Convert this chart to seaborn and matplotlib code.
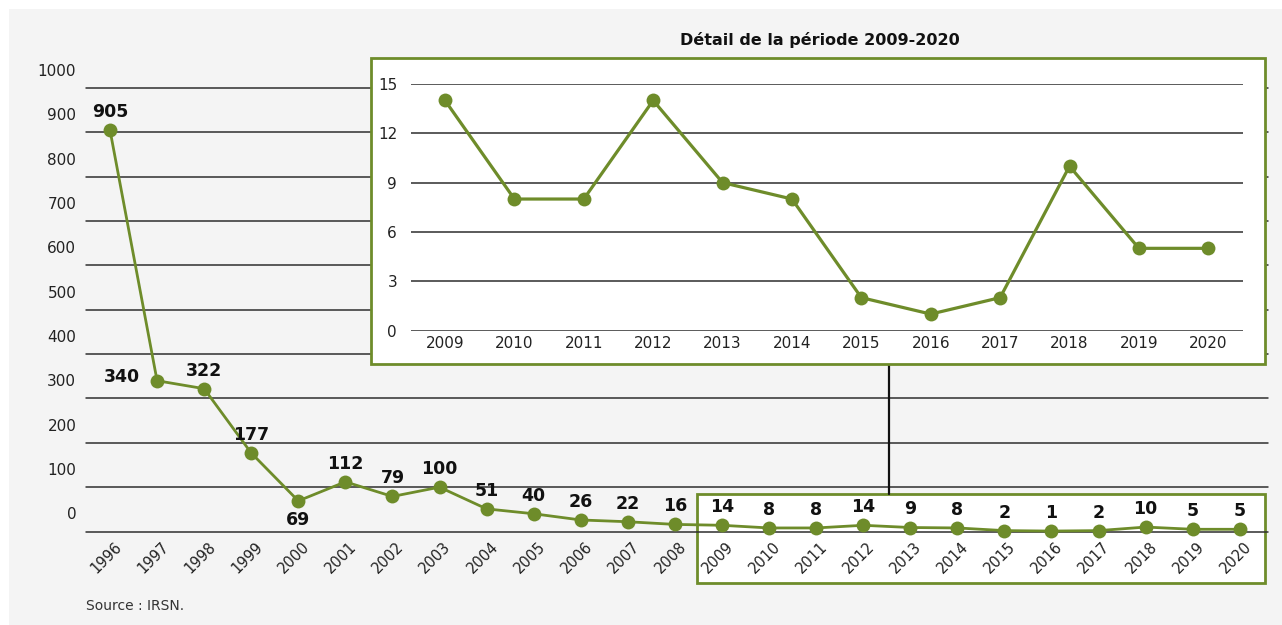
import matplotlib
matplotlib.use("Agg")
import matplotlib.pyplot as plt
import seaborn as sns
import pandas as pd
from matplotlib.patches import Rectangle
from matplotlib.lines import Line2D

# ---- data ----
years = [1996, 1997, 1998, 1999, 2000, 2001, 2002, 2003, 2004, 2005, 2006, 2007,
         2008, 2009, 2010, 2011, 2012, 2013, 2014, 2015, 2016, 2017, 2018, 2019, 2020]
values = [905, 340, 322, 177, 69, 112, 79, 100, 51, 40, 26, 22,
          16, 14, 8, 8, 14, 9, 8, 2, 1, 2, 10, 5, 5]
main_yticks = [0, 100, 200, 300, 400, 500, 600, 700, 800, 900, 1000]
detail_years = [2009, 2010, 2011, 2012, 2013, 2014, 2015, 2016, 2017, 2018, 2019, 2020]
detail_values = [14, 8, 8, 14, 9, 8, 2, 1, 2, 10, 5, 5]
detail_yticks = [0, 3, 6, 9, 12, 15]
title_detail = "Détail de la période 2009-2020"
source_text = "Source : IRSN."

GREEN = "#6e8c2a"
PANEL = "#f4f4f4"
GRID = "#2e2e2e"

sns.set_theme(style="white")
plt.rcParams['font.family'] = ['DejaVu Sans']

W, H = 1282, 625
fig = plt.figure(figsize=(W / 100, H / 100), dpi=100, facecolor="white")

def fx(px):
    return px / W

def fy(py):
    return 1 - py / H

# grey panel
fig.patches.append(Rectangle((fx(9), 0), 1 - fx(9), fy(9), transform=fig.transFigure,
                             facecolor=PANEL, edgecolor="none", zorder=-5))

# ---- main axes ----
x0, x1, ytop, ybot = 86, 1268, 88, 531.5
ax = fig.add_axes([fx(x0), fy(ybot), fx(x1) - fx(x0), fy(ytop) - fy(ybot)], zorder=1)
ax.set_facecolor("none")
df = pd.DataFrame({"idx": range(len(years)), "year": years, "value": values})
sns.lineplot(data=df, x="idx", y="value", ax=ax, color=GREEN, linewidth=2.0,
             marker="o", markersize=10, markeredgewidth=0, zorder=5, clip_on=False)
ax.set_xlim(-0.51, 24.6)
ax.set_ylim(0, 1000)
for s in ax.spines.values():
    s.set_visible(False)
ax.set_xticks([])
ax.set_yticks([])
ax.set_xlabel("")
ax.set_ylabel("")
for t in main_yticks:
    ax.axhline(t, color=GRID, linewidth=1.1, zorder=2, clip_on=False)
    ax.annotate(str(t), xy=(0, t), xycoords=("axes fraction", "data"),
                xytext=(-7, 12), textcoords="offset points",
                ha="right", va="center", fontsize=11, color="#222222")

# x labels rotated
for i, y in enumerate(years):
    ax.annotate(str(y), xy=(i, 0), xycoords="data", xytext=(-3, -19),
                textcoords="offset points", rotation=45, ha="center", va="center",
                fontsize=10.5, color="#222222", zorder=6, annotation_clip=False)

# value labels
for i, (y, v) in enumerate(zip(years, values)):
    if y == 1997:
        off, ha = (-12, 3), "right"
    elif y == 2000:
        off, ha = (0, -14), "center"
    else:
        off, ha = (0, 13), "center"
    ax.annotate(str(v), xy=(i, v), xytext=off, textcoords="offset points",
                ha=ha, va="center", fontsize=12.5, fontweight="bold",
                color="#111111", zorder=7, annotation_clip=False)

# highlight box around 2009-2020
i_start = years.index(detail_years[0])
i_end = years.index(detail_years[-1])
ax.add_patch(Rectangle((i_start - 0.53, -116), (i_end - i_start) + 1.06, 200.5,
                       facecolor="white", edgecolor=GREEN, linewidth=2.0,
                       zorder=1, clip_on=False))

# ---- inset ----
fig.patches.append(Rectangle((fx(371), fy(364)), fx(1265) - fx(371), fy(58) - fy(364),
                             transform=fig.transFigure, facecolor="white",
                             edgecolor=GREEN, linewidth=2.0, zorder=3))
fig.lines.append(Line2D([fx(889), fx(889)], [fy(364), fy(494)],
                        transform=fig.transFigure, color="#111111", linewidth=1.6, zorder=3))

ix0, ix1, iytop, iybot = 411, 1243, 84, 330.5
axi = fig.add_axes([fx(ix0), fy(iybot), fx(ix1) - fx(ix0), fy(iytop) - fy(iybot)], zorder=5)
axi.set_facecolor("none")
dfi = pd.DataFrame({"idx": range(len(detail_years)), "value": detail_values})
sns.lineplot(data=dfi, x="idx", y="value", ax=axi, color=GREEN, linewidth=2.3,
             marker="o", markersize=10, markeredgewidth=0, zorder=5, clip_on=False)
axi.set_xlim(-0.49, 11.5)
axi.set_ylim(0, 15)
for s in axi.spines.values():
    s.set_visible(False)
axi.set_yticks(detail_yticks)
axi.set_yticklabels([str(t) for t in detail_yticks], fontsize=11, color="#222222")
axi.set_xticks(range(len(detail_years)))
axi.set_xticklabels([str(y) for y in detail_years], fontsize=11, color="#222222")
axi.tick_params(axis="both", length=0, pad=4)
axi.tick_params(axis="y", pad=10)
axi.set_xlabel("")
axi.set_ylabel("")
axi.grid(False)
for t in detail_yticks:
    axi.axhline(t, color=GRID, linewidth=1.1, zorder=2)

fig.text(fx(820), fy(40), title_detail, ha="center", va="center",
         fontsize=11.5, fontweight="bold", color="#111111")
fig.text(fx(86), fy(606), source_text, ha="left", va="center",
         fontsize=10, color="#333333")

fig.savefig("out.png", dpi=100, facecolor="white")
